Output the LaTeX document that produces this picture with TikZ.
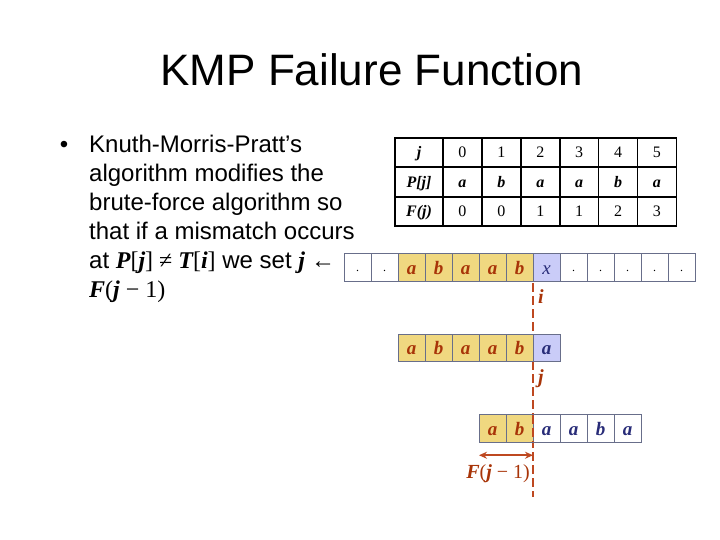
\documentclass[tikz,border=0pt]{standalone}
\usepackage{fontspec}
\setmainfont{Liberation Sans}
\newfontfamily\serif{Liberation Serif}
\usepackage{tikz}
\usetikzlibrary{arrows.meta, positioning}
\definecolor{matchYellow}{RGB}{240, 216, 128}
\definecolor{failBlue}{RGB}{202, 204, 248}
\definecolor{cellBorder}{RGB}{104, 110, 138}
\definecolor{letterRed}{RGB}{168, 52, 8}
\definecolor{letterBlue}{RGB}{40, 44, 120}
\definecolor{cutRed}{RGB}{190, 72, 32}
\newcommand{\mvar}[1]{{\serif\bfseries\itshape #1}}
\newcommand{\msym}[1]{{\serif #1}}

\begin{document}
\begin{tikzpicture}[
    x=1pt, y=-1pt,
    node distance=0pt,
    % Node styles
    title/.style={
        font=\fontsize{44}{48}\selectfont
    },
    bodyline/.style={
        anchor=base west,
        inner sep=0pt,
        font=\fontsize{24}{29}\selectfont
    },
    headcell/.style={
        rectangle,
        draw=black,
        line width=1.6pt,
        minimum width=48pt,
        minimum height=29.5pt,
        inner sep=0pt,
        outer sep=0pt,
        text height=11pt,
        text depth=0pt,
        font=\serif\bfseries\itshape\fontsize{16}{18}\selectfont
    },
    tabcell/.style={
        headcell,
        minimum width=38.9pt,
        font=\serif\fontsize{16}{18}\selectfont
    },
    tabletter/.style={
        tabcell,
        font=\serif\bfseries\itshape\fontsize{16}{18}\selectfont
    },
    strcell/.style={
        rectangle,
        draw=cellBorder,
        line width=0.8pt,
        minimum width=27pt,
        minimum height=27.5pt,
        inner sep=0pt,
        outer sep=0pt,
        fill=white,
        text=letterBlue,
        text height=13pt,
        text depth=0pt,
        font=\serif\bfseries\itshape\fontsize{19}{20}\selectfont
    },
    dotcell/.style={
        strcell,
        text=black,
        text height=8pt,
        font=\serif\fontsize{12}{12}\selectfont
    },
    matchcell/.style={
        strcell,
        fill=matchYellow,
        text=letterRed
    },
    failcell/.style={
        strcell,
        fill=failBlue
    },
    cutlabel/.style={
        inner sep=0pt,
        text=letterRed,
        font=\serif\fontsize{20}{22}\selectfont
    },
    cut/.style={
        draw=cutRed,
        line width=1.6pt,
        dash pattern=on 9pt off 4pt
    },
    arrow/.style={
        {Stealth[length=8pt,width=7pt]}-{Stealth[length=8pt,width=7pt]},
        line width=1.8pt,
        color=cutRed
    }
]
\useasboundingbox (0,0) rectangle (720,540);

% Title
\node[title] (ttl) at (372,70) {KMP Failure Function};

% Bullet text
\node[bodyline, anchor=base] (bul) at (64,153) {•};
\node[bodyline] (l1) at (89,153) {Knuth-Morris-Pratt’s};
\node[bodyline] (l2) at (89,181.8) {algorithm modifies the};
\node[bodyline] (l3) at (89,210.6) {brute-force algorithm so};
\node[bodyline] (l4) at (89,239.4) {that if a mismatch occurs};
\node[bodyline] (l5) at (89,268.2) {at \mvar{P}\msym{[}\mvar{j}\msym{] ≠ }\mvar{T}\msym{[}\mvar{i}\msym{]} we set \mvar{j}\msym{ ←}};
\node[bodyline] (l6) at (89,297) {\mvar{F}\msym{(}\mvar{j}\msym{ − 1)}};

% Failure function table
\node[headcell] (hj) at (419,152.5) {j};
\node[headcell, below=of hj] (hp) {P[j]};
\node[headcell, below=of hp] (hf) {F(j)};
\node[tabcell, right=of hj] (j0) {0};
\node[tabcell, right=of j0] (j1) {1};
\node[tabcell, right=of j1] (j2) {2};
\node[tabcell, right=of j2] (j3) {3};
\node[tabcell, right=of j3] (j4) {4};
\node[tabcell, right=of j4] (j5) {5};
\node[tabletter, right=of hp] (p0) {a};
\node[tabletter, right=of p0] (p1) {b};
\node[tabletter, right=of p1] (p2) {a};
\node[tabletter, right=of p2] (p3) {a};
\node[tabletter, right=of p3] (p4) {b};
\node[tabletter, right=of p4] (p5) {a};
\node[tabcell, right=of hf] (f0) {0};
\node[tabcell, right=of f0] (f1) {0};
\node[tabcell, right=of f1] (f2) {1};
\node[tabcell, right=of f2] (f3) {1};
\node[tabcell, right=of f3] (f4) {2};
\node[tabcell, right=of f4] (f5) {3};

% Cut line at the mismatch
\coordinate (cutTop) at (533,283);
\coordinate[below=214pt of cutTop] (cutEnd);
\draw[cut] (cutTop) -- (cutEnd);

% Text row
\node[dotcell] (tx1) at (357.5,267.5) {.};
\node[dotcell, right=of tx1] (tx2) {.};
\node[matchcell, right=of tx2] (tx3) {a};
\node[matchcell, right=of tx3] (tx4) {b};
\node[matchcell, right=of tx4] (tx5) {a};
\node[matchcell, right=of tx5] (tx6) {a};
\node[matchcell, right=of tx6] (tx7) {b};
\node[failcell, right=of tx7, font=\serif\itshape\fontsize{19}{20}\selectfont] (tx8) {x};
\node[dotcell, right=of tx8] (tx9) {.};
\node[dotcell, right=of tx9] (tx10) {.};
\node[dotcell, right=of tx10] (tx11) {.};
\node[dotcell, right=of tx11] (tx12) {.};
\node[dotcell, right=of tx12] (tx13) {.};

% Pattern aligned with the text
\node[matchcell] (pa1) at (411.5,348) {a};
\node[matchcell, right=of pa1] (pa2) {b};
\node[matchcell, right=of pa2] (pa3) {a};
\node[matchcell, right=of pa3] (pa4) {a};
\node[matchcell, right=of pa4] (pa5) {b};
\node[failcell, right=of pa5] (pa6) {a};

% Pattern after the shift
\node[matchcell] (ps1) at (492.5,428.5) {a};
\node[matchcell, right=of ps1] (ps2) {b};
\node[strcell, right=of ps2] (ps3) {a};
\node[strcell, right=of ps3] (ps4) {a};
\node[strcell, right=of ps4] (ps5) {b};
\node[strcell, right=of ps5] (ps6) {a};
\draw[cut] (ps3.north west) -- (ps3.south west);

% Labels
\node[cutlabel, below right=8pt and 5pt of tx8.south west] (ilab) {\mvar{i}};
\node[cutlabel, below right=8pt and 5pt of pa6.south west] (jlab) {\mvar{j}};
\draw[arrow] ([yshift=-13pt]ps1.south west) -- ([yshift=-13pt]ps2.south east);
\node[cutlabel, below left=22pt and 3pt of ps3.south west] (flab) {\mvar{F}(\mvar{j} − 1)};

\end{tikzpicture}
\end{document}
